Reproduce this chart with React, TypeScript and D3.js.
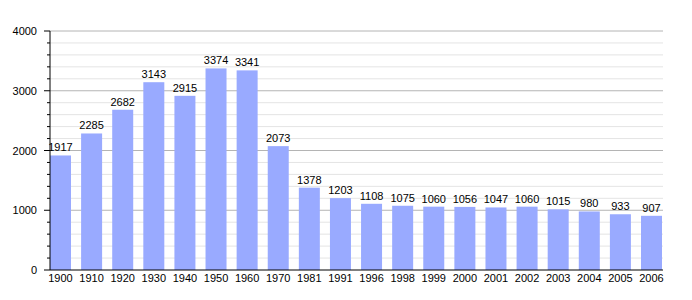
import React from "react";
import * as d3 from "d3";

const years = ["1900","1910","1920","1930","1940","1950","1960","1970","1981","1991","1996","1998","1999","2000","2001","2002","2003","2004","2005","2006"];
const population = [1917,2285,2682,3143,2915,3374,3341,2073,1378,1203,1108,1075,1060,1056,1047,1060,1015,980,933,907];
const majorTicks = [0,1000,2000,3000,4000];

const W = 692, H = 300;
const left = 50, right = 663, top = 31, bottom = 270;
const barW = 21;
const font = "'Liberation Sans', Arial, sans-serif";

export default function App() {
  const x = d3.scalePoint<string>().domain(years).range([60.5, 651.5]);
  const y = d3.scaleLinear().domain([0, 4000]).range([bottom, top]);
  const minor = d3.range(200, 4001, 200).filter(v => v % 1000 !== 0);
  return (
    <svg width={W} height={H} style={{ position: "absolute", left: 0, top: 0, background: "#fff" }}>
      {minor.map(v => (
        <line key={"m" + v} x1={left} x2={right} y1={y(v)} y2={y(v)} stroke="#e4e4e4" strokeWidth={1} />
      ))}
      {majorTicks.slice(1).map(v => (
        <line key={"M" + v} x1={left} x2={right} y1={y(v)} y2={y(v)} stroke="#b4b4b4" strokeWidth={1} />
      ))}
      {years.map((yr, i) => (
        <rect key={yr} x={x(yr)! - barW / 2} y={y(population[i])} width={barW} height={bottom - y(population[i])} fill="#99aaff" />
      ))}
      {years.map((yr, i) => (
        <text key={"v" + yr} x={x(yr)!} y={y(population[i]) - 4} textAnchor="middle" fontSize={11} fontFamily={font} fill="#000">{population[i]}</text>
      ))}
      <line x1={left} x2={left} y1={top} y2={bottom} stroke="#000" strokeWidth={1} />
      <line x1={left} x2={right} y1={bottom} y2={bottom} stroke="#000" strokeWidth={1} />
      {minor.map(v => (
        <line key={"mt" + v} x1={left - 3} x2={left} y1={y(v)} y2={y(v)} stroke="#000" strokeWidth={1} />
      ))}
      {majorTicks.map(v => (
        <line key={"Mt" + v} x1={left - 6} x2={left} y1={y(v)} y2={y(v)} stroke="#000" strokeWidth={1} />
      ))}
      {majorTicks.map(v => (
        <text key={"yl" + v} x={37} y={y(v) + 4} textAnchor="end" fontSize={11} fontFamily={font} fill="#000">{v}</text>
      ))}
      {years.map(yr => (
        <text key={"xl" + yr} x={x(yr)!} y={282} textAnchor="middle" fontSize={11} fontFamily={font} fill="#000">{yr}</text>
      ))}
    </svg>
  );
}
